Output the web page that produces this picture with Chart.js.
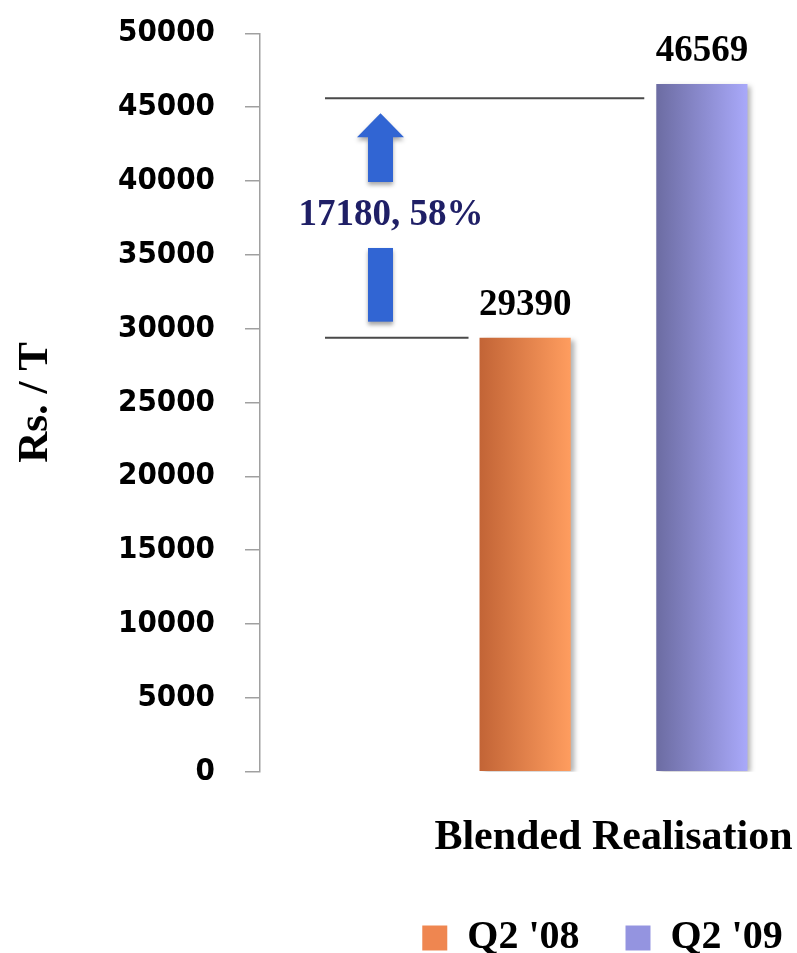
<!DOCTYPE html>
<html>
<head>
<meta charset="utf-8">
<title>Blended Realisation</title>
<script src="https://cdn.jsdelivr.net/npm/chart.js@4/dist/chart.umd.min.js"></script>
<style>
  html, body { margin: 0; padding: 0; background: #ffffff; overflow: hidden; width: 797px; height: 953px; }
  #wrap { position: absolute; left: 0; top: 0; width: 970px; height: 968px; }
</style>
</head>
<body>
<div id="wrap"><canvas id="chart" width="970" height="968"></canvas></div>
<script>
// ---- data ----
const categories = ['Blended Realisation'];
const seriesNames = ["Q2 '08", "Q2 '09"];
const q2_08 = [29390];
const q2_09 = [46569];
const yTicks = [0, 5000, 10000, 15000, 20000, 25000, 30000, 35000, 40000, 45000, 50000];
const changeLabel = '17180, 58%';
const bracketLevels = [29390, 45600];   // lower / upper guide lines of the change bracket
const axisTitle = 'Rs. / T';

// ---- styling ----
const SERIF = "'Liberation Serif', 'Times New Roman', serif";
const SANS = "'DejaVu Sans Condensed', 'DejaVu Sans', sans-serif";
const orangeStops = ['#c26436', '#ff9d5f'];
const blueStops = ['#6c6ca2', '#a9a9fa'];
const swatches = ['#ef8650', '#9494e0'];

function barGradient(stops) {
  return (ctx) => {
    const el = ctx.element;
    if (!el || !isFinite(el.x) || !isFinite(el.width)) return stops[1];
    const g = ctx.chart.ctx.createLinearGradient(el.x - el.width / 2, 0, el.x + el.width / 2, 0);
    g.addColorStop(0, stops[0]);
    g.addColorStop(1, stops[1]);
    return g;
  };
}

// Nudge the legend a little left of the plot centre.
const legendShift = {
  id: 'legendShift',
  afterLayout(chart) {
    const lg = chart.legend;
    if (lg) { lg.left -= 11; lg.right -= 11; }
  }
};

// Shadows under the bars, value labels, and the change bracket with its arrow.
const overlay = {
  id: 'overlay',
  beforeDatasetsDraw(chart) {
    const c = chart.ctx;
    c.save();
    c.shadowColor = 'rgba(0,0,0,0.30)';
    c.shadowOffsetX = 4;
    c.shadowOffsetY = 2;
    c.shadowBlur = 5;
  },
  afterDatasetsDraw(chart) {
    const c = chart.ctx;
    c.restore();
    const y = chart.scales.y;
    const area = chart.chartArea;
    const bars = chart.data.datasets.map((ds, i) => chart.getDatasetMeta(i).data[0]);

    // value labels above the bars
    c.save();
    c.fillStyle = '#000';
    c.font = 'bold 37px ' + SERIF;
    c.textAlign = 'center';
    c.textBaseline = 'alphabetic';
    chart.data.datasets.forEach((ds, i) => {
      const el = bars[i];
      c.fillText(String(ds.data[0]), el.x, el.y - 23);
    });
    c.restore();

    // bracket guide lines
    const yLow = y.getPixelForValue(bracketLevels[0]);
    const yHigh = y.getPixelForValue(bracketLevels[1]);
    const lineStart = area.left + 65;
    c.save();
    c.strokeStyle = '#4a4a4a';
    c.lineWidth = 2;
    c.beginPath();
    c.moveTo(lineStart, yLow);
    c.lineTo(bars[0].x - bars[0].width / 2 - 11, yLow);
    c.moveTo(lineStart, yHigh);
    c.lineTo(bars[1].x - bars[1].width / 2 - 12, yHigh);
    c.stroke();
    c.restore();

    // upward arrow, split around the change label
    const ax = area.left + 120.5;
    const tip = yHigh + 15;
    const headBase = tip + 24;
    const bottom = yLow - 16;
    const mid = (yHigh + yLow) / 2 - 3;
    const shaftHalf = 12.5, headHalf = 23.5, gap = 33;
    c.save();
    c.shadowColor = 'rgba(0,0,0,0.35)';
    c.shadowOffsetY = 3;
    c.shadowBlur = 4;
    c.fillStyle = '#3165d3';
    c.beginPath();
    c.moveTo(ax, tip);
    c.lineTo(ax + headHalf, headBase);
    c.lineTo(ax + shaftHalf, headBase);
    c.lineTo(ax + shaftHalf, mid - gap);
    c.lineTo(ax - shaftHalf, mid - gap);
    c.lineTo(ax - shaftHalf, headBase);
    c.lineTo(ax - headHalf, headBase);
    c.closePath();
    c.fill();
    c.fillRect(ax - shaftHalf, mid + gap, shaftHalf * 2, bottom - (mid + gap));
    c.restore();

    c.save();
    c.fillStyle = '#1f1f66';
    c.font = 'bold 37px ' + SERIF;
    c.textAlign = 'center';
    c.textBaseline = 'middle';
    c.fillText(changeLabel, ax + 10.5, mid);
    c.restore();
  }
};

const chart = new Chart(document.getElementById('chart'), {
  type: 'bar',
  data: {
    labels: categories,
    datasets: [
      { label: seriesNames[0], data: q2_08, backgroundColor: barGradient(orangeStops) },
      { label: seriesNames[1], data: q2_09, backgroundColor: barGradient(blueStops) }
    ]
  },
  options: {
    responsive: false,
    animation: false,
    devicePixelRatio: 1,
    categoryPercentage: 0.5,
    barPercentage: 0.516,
    layout: { padding: { left: 0, top: 33.3, right: 3, bottom: 0 } },
    plugins: {
      tooltip: { enabled: false },
      legend: {
        position: 'bottom',
        fullSize: false,
        labels: {
          color: '#000',
          font: { family: SERIF, weight: 'bold', size: 40 },
          boxWidth: 25,
          boxHeight: 25,
          padding: 46,
          generateLabels(ch) {
            const items = Chart.defaults.plugins.legend.labels.generateLabels(ch);
            items.forEach((it, i) => { it.fillStyle = swatches[i]; it.strokeStyle = swatches[i]; it.lineWidth = 0; });
            return items;
          }
        }
      }
    },
    scales: {
      x: {
        grid: { display: false },
        border: { display: false },
        ticks: { color: '#000', font: { family: SERIF, weight: 'bold', size: 42 }, padding: 33 },
        afterFit(s) { s.height = 100.3; }
      },
      y: {
        min: yTicks[0],
        max: yTicks[yTicks.length - 1],
        ticks: {
          stepSize: yTicks[1] - yTicks[0],
          color: '#000',
          font: { family: SANS, weight: 'bold', size: 31 },
          padding: 30,
          callback: (v) => String(v)
        },
        grid: { drawOnChartArea: false, tickLength: 15, color: '#a0a0a0', lineWidth: 1.5 },
        border: { color: '#a0a0a0', width: 1.5 },
        title: {
          display: true,
          text: axisTitle,
          color: '#000',
          font: { family: SERIF, weight: 'bold', size: 43 },
          padding: { top: 10, bottom: 0 }
        },
        afterFit(s) {
          s.width = 260;
          s.paddingTop = 0;
          s.paddingBottom = 0;
        }
      }
    }
  },
  plugins: [overlay, legendShift]
});
chart.update();
</script>
</body>
</html>
